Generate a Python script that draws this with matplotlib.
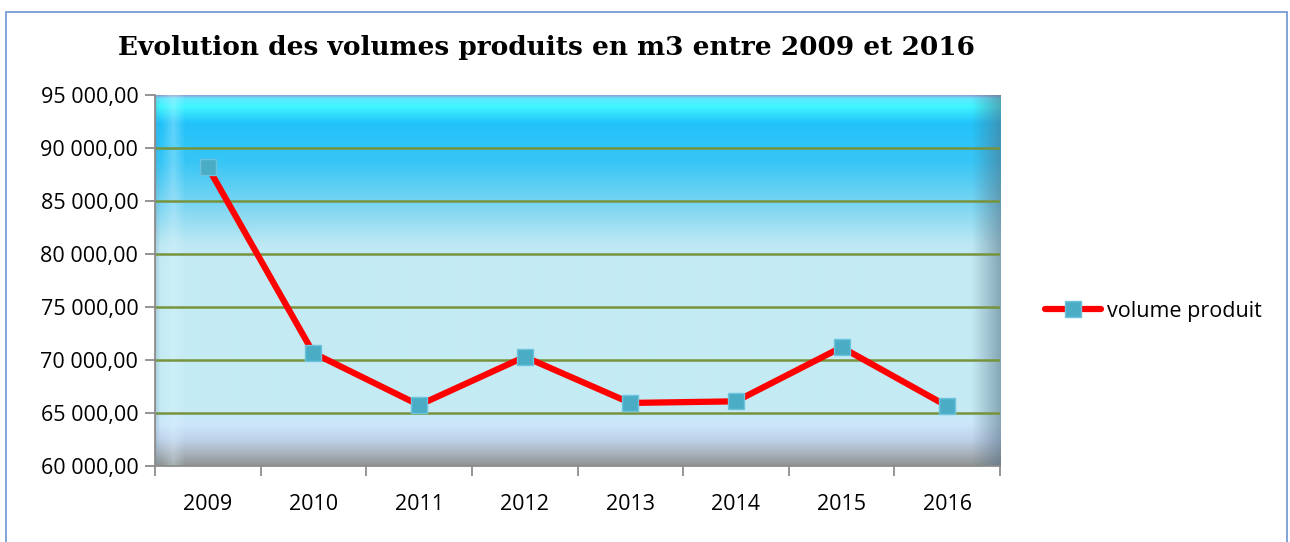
import matplotlib
matplotlib.use('Agg')
import matplotlib.pyplot as plt
import numpy as np
from matplotlib.colors import to_rgb
from matplotlib.patches import Rectangle
from matplotlib.ticker import FuncFormatter

years = ['2009', '2010', '2011', '2012', '2013', '2014', '2015', '2016']
volumes = [88200, 70650, 65750, 70300, 65950, 66100, 71200, 65650]

fig = plt.figure(figsize=(12.9, 5.42), dpi=100)
ax = fig.add_axes([155 / 1290, 76 / 542, 845 / 1290, 371 / 542])

# cadre bleu autour du graphique
fig.patches.append(Rectangle((6 / 1290, -0.1), 1281 / 1290, 1.1 - 12 / 542,
                             transform=fig.transFigure, fill=False,
                             edgecolor='#6b93cf', linewidth=1.2))

# fond dégradé façon Excel (biseau 3D)
def gradient(stops, n):
    pos = np.linspace(0, 1, n)
    cols = np.array([to_rgb(c) for _, c in stops])
    p = [s for s, _ in stops]
    return np.stack([np.interp(pos, p, cols[:, k]) for k in range(3)], axis=1)

H, W = 371, 845
vert = gradient([(0.0, '#8ea6da'), (0.008, '#5fe8ff'), (0.03, '#3ff6ff'),
                 (0.075, '#22c2fa'), (0.18, '#38c6f6'), (0.30, '#7ed6f2'),
                 (0.40, '#bce8f3'), (0.44, '#c4ebf4'), (0.84, '#c4ebf4'),
                 (0.89, '#cce6f9'), (0.93, '#bfd2ea'), (0.965, '#a9b4bf'),
                 (1.0, '#8f9494')], H)
img = np.repeat(vert[:, None, :], W, axis=1)
xs = np.arange(W)
# biseau gauche (sombre puis clair) et droit (sombre)
dark_l = np.clip(1 - xs / 5, 0, 1)[None, :, None] * 0.3
img = img * (1 - dark_l) + np.array(to_rgb('#6a8aa0')) * dark_l
left = np.clip(1 - np.abs(xs - 18) / 12, 0, 1)[None, :, None] * 0.3
img = img * (1 - left) + np.array(to_rgb('#e0f6ff')) * left
right = np.clip((xs - (W - 30)) / 30, 0, 1)[None, :, None] * 0.55
img = img * (1 - right) + np.array(to_rgb('#506c80')) * right
ax.imshow(img, extent=[-0.5, 7.5, 60000, 95000], aspect='auto', zorder=0,
          interpolation='bilinear')

for v in range(65000, 95000, 5000):
    ax.axhline(v, color='#77933c', linewidth=1.8, zorder=1)

x = np.arange(len(years))
ax.plot(x, volumes, color='#ff0000', linewidth=4.5, marker='s', markersize=11.5,
        markerfacecolor='#4bacc6', markeredgecolor='#6cc4dc', markeredgewidth=1,
        label='volume produit', zorder=3, solid_capstyle='round')

ax.set_xlim(-0.5, 7.5)
ax.set_ylim(60000, 95000)
ax.set_yticks(range(60000, 95001, 5000))
ax.yaxis.set_major_formatter(FuncFormatter(
    lambda v, p: f'{int(v):,}'.replace(',', ' ') + ',00'))
ax.set_xticks(np.arange(-0.5, 8, 1), minor=False)
ax.set_xticklabels([])
ax.set_xticks(x, minor=True)
ax.set_xticklabels(years, minor=True)
ax.tick_params(axis='x', which='minor', length=0, pad=20, labelsize=15.5)
ax.tick_params(axis='x', which='major', length=7, color='#8c8c8c', width=1.3)
ax.tick_params(axis='y', length=7, color='#8c8c8c', width=1.3, labelsize=15.5, pad=5)
for lab in ax.get_yticklabels() + ax.get_xticklabels(minor=True):
    lab.set_family('Open Sans')

for s in ['top', 'right']:
    ax.spines[s].set_visible(False)
for s in ['left', 'bottom']:
    ax.spines[s].set_color('#8c8c8c')
    ax.spines[s].set_linewidth(1.3)

fig.text(546 / 1290, 1 - 47 / 542, 'Evolution des volumes produits en m3 entre 2009 et 2016',
         ha='center', va='center', fontsize=19, fontweight='bold',
         family='DejaVu Serif')

fig.legend(loc='center left', bbox_to_anchor=(1026 / 1290, 1 - 311 / 542),
           frameon=False, prop={'family': 'Open Sans', 'size': 15.5},
           handlelength=2.6, handletextpad=0.25)

fig.savefig('out.png', dpi=100)
